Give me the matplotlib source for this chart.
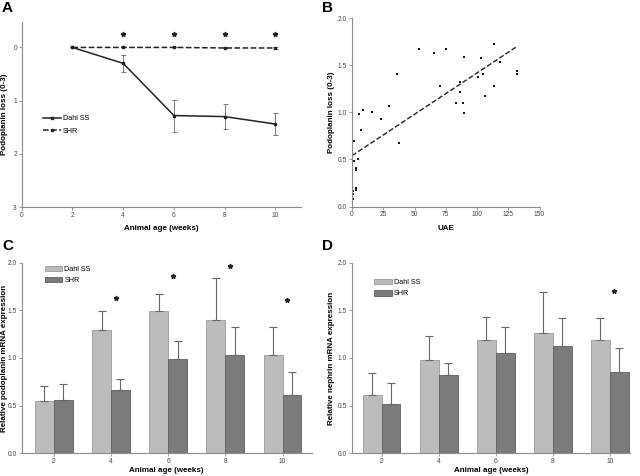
import numpy as np
import matplotlib
matplotlib.use('Agg')
import matplotlib.pyplot as plt
from matplotlib.lines import Line2D

plt.rcParams['font.family'] = ['Liberation Sans', 'DejaVu Sans']

# ---- panel A: podoplanin loss over time ----
weeks = [2, 4, 6, 8, 10]
dahl_loss = [0.0, 0.30, 1.28, 1.30, 1.44]
dahl_loss_err = [0.0, 0.16, 0.30, 0.23, 0.20]
shr_loss = [0.0, 0.0, 0.0, 0.01, 0.01]
shr_loss_err = [0.0, 0.0, 0.0, 0.0, 0.02]
star_weeks_a = [4, 6, 8, 10]

# ---- panel B: podoplanin loss vs UAE ----
uae = [53.3, 65.8, 74.9, 89.3, 103.1, 113.2, 118.3, 131.6, 131.6, 36.0,
       70.3, 86.1, 86.1, 101.0, 105.0, 113.2, 106.3, 83.1, 88.5, 89.5,
       29.3, 22.9, 16.3, 8.8, 5.9, 7.5, 37.8, 1.9, 4.8, 1.9,
       2.9, 3.2, 3.2, 3.5, 1.1, 1.1, 0.5, 0.3]
loss_b = [1.67, 1.63, 1.67, 1.59, 1.58, 1.73, 1.53, 1.44, 1.41, 1.41,
          1.28, 1.32, 1.22, 1.38, 1.41, 1.28, 1.17, 1.10, 1.10, 0.99,
          1.07, 0.93, 1.00, 1.03, 0.98, 0.81, 0.67, 0.70, 0.50, 0.48,
          0.41, 0.39, 0.20, 0.18, 0.17, 0.13, 0.08, 0.04]
fit_x = [0, 131]
fit_y = [0.54, 1.69]

# ---- panel C: podoplanin mRNA ----
dahl_podo = [0.55, 1.29, 1.49, 1.40, 1.03]
dahl_podo_err = [0.16, 0.20, 0.18, 0.44, 0.30]
shr_podo = [0.56, 0.66, 0.99, 1.03, 0.61]
shr_podo_err = [0.17, 0.12, 0.19, 0.29, 0.24]
stars_c = [None, 1.63, 1.86, 1.97, 1.61]

# ---- panel D: nephrin mRNA ----
dahl_neph = [0.61, 0.98, 1.19, 1.26, 1.19]
dahl_neph_err = [0.23, 0.25, 0.24, 0.43, 0.23]
shr_neph = [0.52, 0.82, 1.05, 1.13, 0.85]
shr_neph_err = [0.22, 0.13, 0.27, 0.29, 0.25]
stars_d = [None, None, None, None, 1.70]

C_DAHL = '#bcbcbc'
C_SHR = '#7b7b7b'
SPINE = '#8a8a8a'
TICK_FS = 4.8
LAB_FS = 5.8

fig = plt.figure(figsize=(6.4, 4.76), dpi=100)


def style(ax):
    for s in ['top', 'right']:
        ax.spines[s].set_visible(False)
    for s in ['left', 'bottom']:
        ax.spines[s].set_color(SPINE)
        ax.spines[s].set_linewidth(0.8)
    ax.tick_params(labelsize=TICK_FS, length=2, width=0.6, color=SPINE,
                   labelcolor='#444444', pad=1.5)


# A
axA = fig.add_axes([0.034, 0.565, 0.436, 0.389])
style(axA)
axA.errorbar(weeks, dahl_loss, yerr=dahl_loss_err, color='#222222', lw=1.1,
             marker='s', ms=2, ecolor='#777777', elinewidth=0.7, capsize=1.8,
             capthick=0.7, label='Dahl SS')
axA.errorbar(weeks, shr_loss, yerr=shr_loss_err, color='#222222', lw=1.1, ls='--',
             marker='s', ms=1.6, ecolor='#777777', elinewidth=0.7, capsize=1.8,
             capthick=0.7, label='SHR')
axA.plot(star_weeks_a, [-0.26] * len(star_weeks_a), ls='none', marker='*',
         ms=3.5, color='#222222')
axA.set_xlim(0, 11)
axA.set_ylim(3, -0.48)
axA.set_xticks([0, 2, 4, 6, 8, 10])
axA.set_yticks([0, 1, 2, 3])
axA.set_xlabel('Animal age (weeks)', fontsize=LAB_FS, fontweight='bold')
axA.set_ylabel('Podoplanin loss (0-3)', fontsize=LAB_FS, fontweight='bold')
axA.xaxis.set_label_coords(0.5, -0.097)
axA.yaxis.set_label_coords(-0.048, 0.5)
handles = [Line2D([], [], color='#222222', lw=1.1, marker='s', ms=2),
           Line2D([], [], color='#222222', lw=1.1, ls='--', marker='s', ms=1.6)]
axA.legend(handles, ['Dahl SS', 'SHR'], loc='upper left', bbox_to_anchor=(0.075, 0.497),
           borderaxespad=0, borderpad=0, frameon=False, fontsize=5.2,
           handlelength=2.6, handletextpad=0.2, labelspacing=0.8)
fig.text(0.003, 0.998, 'A', fontsize=11, fontweight='bold', va='top')

# B
axB = fig.add_axes([0.550, 0.566, 0.293, 0.396])
style(axB)
axB.scatter(uae, loss_b, marker='s', s=4, color='#111111', lw=0)
axB.plot(fit_x, fit_y, ls='--', color='#222222', lw=1.0)
axB.set_xlim(0, 150)
axB.set_ylim(0, 2.0)
axB.set_xticks([0, 25, 50, 75, 100, 125, 150])
axB.set_yticks([0, 0.5, 1.0, 1.5, 2.0])
axB.set_yticklabels(['0.0', '0.5', '1.0', '1.5', '2.0'])
axB.set_xlabel('UAE', fontsize=LAB_FS, fontweight='bold')
axB.set_ylabel('Podoplanin loss (0-3)', fontsize=LAB_FS, fontweight='bold')
axB.xaxis.set_label_coords(0.5, -0.097)
axB.yaxis.set_label_coords(-0.092, 0.5)
fig.text(0.503, 0.998, 'B', fontsize=11, fontweight='bold', va='top')


def bars(ax, dahl, dahl_err, shr, shr_err, stars, xlim, ylabel, ylab_x, leg_anchor):
    style(ax)
    x = np.arange(1, len(weeks) + 1)
    w = 0.33
    ax.bar(x - w / 2, dahl, w, color=C_DAHL, edgecolor='#999999', lw=0.6,
           yerr=[np.zeros(len(dahl)), dahl_err], ecolor='#666666',
           error_kw=dict(elinewidth=0.8, capsize=3, capthick=0.8), label='Dahl SS')
    ax.bar(x + w / 2, shr, w, color=C_SHR, edgecolor='#5e5e5e', lw=0.6,
           yerr=[np.zeros(len(shr)), shr_err], ecolor='#666666',
           error_kw=dict(elinewidth=0.8, capsize=3, capthick=0.8), label='SHR')
    for xi, s in zip(x, stars):
        if s is not None:
            ax.plot(xi + 0.08, s, marker='*', ms=3.5, color='#222222', ls='none')
    ax.set_xlim(*xlim)
    ax.set_ylim(0, 2.0)
    ax.set_xticks(x)
    ax.set_xticklabels([str(v) for v in weeks])
    ax.set_yticks([0, 0.5, 1.0, 1.5, 2.0])
    ax.set_yticklabels(['0.0', '0.5', '1.0', '1.5', '2.0'])
    ax.set_xlabel('Animal age (weeks)', fontsize=LAB_FS, fontweight='bold')
    ax.set_ylabel(ylabel, fontsize=LAB_FS, fontweight='bold')
    ax.xaxis.set_label_coords(0.5, -0.075)
    ax.yaxis.set_label_coords(ylab_x, 0.5)
    ax.legend(loc='upper left', bbox_to_anchor=leg_anchor, borderaxespad=0,
              borderpad=0, frameon=False, fontsize=5.2, handlelength=2.4,
              handleheight=0.8, handletextpad=0.3, labelspacing=0.55)


axC = fig.add_axes([0.034, 0.048, 0.453, 0.400])
bars(axC, dahl_podo, dahl_podo_err, shr_podo, shr_podo_err, stars_c,
     (0.44, 5.51), 'Relative podoplanin mRNA expression', -0.047, (0.08, 0.985))
fig.text(0.003, 0.498, 'C', fontsize=11, fontweight='bold', va='top')

axD = fig.add_axes([0.550, 0.048, 0.434, 0.400])
bars(axD, dahl_neph, dahl_neph_err, shr_neph, shr_neph_err, stars_d,
     (0.48, 5.35), 'Relative nephrin mRNA expression', -0.063, (0.08, 0.915))
fig.text(0.503, 0.498, 'D', fontsize=11, fontweight='bold', va='top')

fig.savefig('out.png', dpi=100)
